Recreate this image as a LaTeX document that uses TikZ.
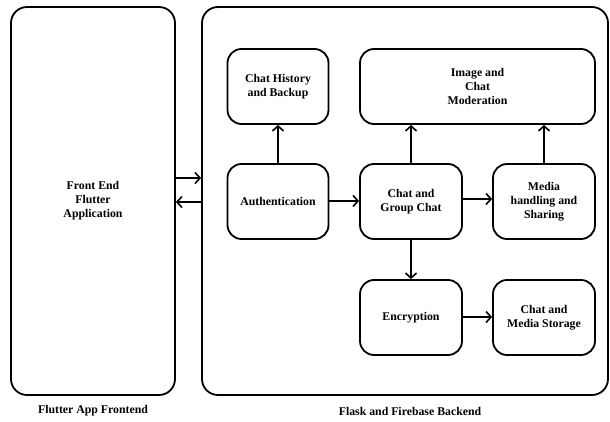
\documentclass[tikz,border=0pt]{standalone}
\usepackage{fontspec}
\setmainfont{Liberation Serif}
\usetikzlibrary{arrows.meta}
\begin{document}
\begin{tikzpicture}[x=1pt,y=-1pt,
  box/.style={draw,line width=1.8pt,rounded corners=14pt,align=center,font=\bfseries\fontsize{11.8}{14}\selectfont,inner sep=0pt},
  big/.style={draw,line width=1.8pt,rounded corners=16pt},
  arr/.style={line width=1.8pt,-{Straight Barb[length=5pt,width=11pt,line width=1.6pt]}},
  captext/.style={font=\bfseries\fontsize{11.8}{14}\selectfont}]
\useasboundingbox (0,0) rectangle (610,422);
\node[big,minimum width=164pt,minimum height=388pt,align=center,font=\bfseries\fontsize{11.8}{14}\selectfont] (fe) at (93,201) {Front End\\Flutter\\Application};
\node[big,minimum width=406pt,minimum height=388pt] (be) at (405,201) {};
\node[box,minimum width=101pt,minimum height=75pt] (hist) at (278,86.5) {Chat History\\and Backup};
\node[box,minimum width=101pt,minimum height=75pt] (auth) at (278,201.5) {Authentication};
\node[box,minimum width=235pt,minimum height=75pt] (mod) at (477.5,86.5) {Image and\\Chat\\Moderation};
\node[box,minimum width=102pt,minimum height=75pt] (chat) at (411,201.5) {Chat and\\Group Chat};
\node[box,minimum width=102pt,minimum height=75pt] (media) at (544,201.5) {Media\\handling and\\Sharing};
\node[box,minimum width=102pt,minimum height=75pt] (enc) at (411,317.5) {Encryption};
\node[box,minimum width=102pt,minimum height=75pt] (store) at (544,317.5) {Chat and\\Media Storage};
\node[captext] (fcap) at (93,411) {Flutter App Frontend};
\node[captext] (bcap) at (410,411) {Flask and Firebase Backend};
\draw[arr] (fe.east |- 0,178) -- (be.west |- 0,178);
\draw[arr] (be.west |- 0,202) -- (fe.east |- 0,202);
\draw[arr] (auth) -- (hist);
\draw[arr] (auth.east |- 0,201) -- (chat.west |- 0,201);
\draw[arr] (chat.east |- 0,199) -- (media.west |- 0,199);
\draw[arr] (chat.north) -- (chat.north |- mod.south);
\draw[arr] (media.north) -- (media.north |- mod.south);
\draw[arr] (chat) -- (enc);
\draw[arr] (enc.east |- 0,317) -- (store.west |- 0,317);
\end{tikzpicture}
\end{document}
